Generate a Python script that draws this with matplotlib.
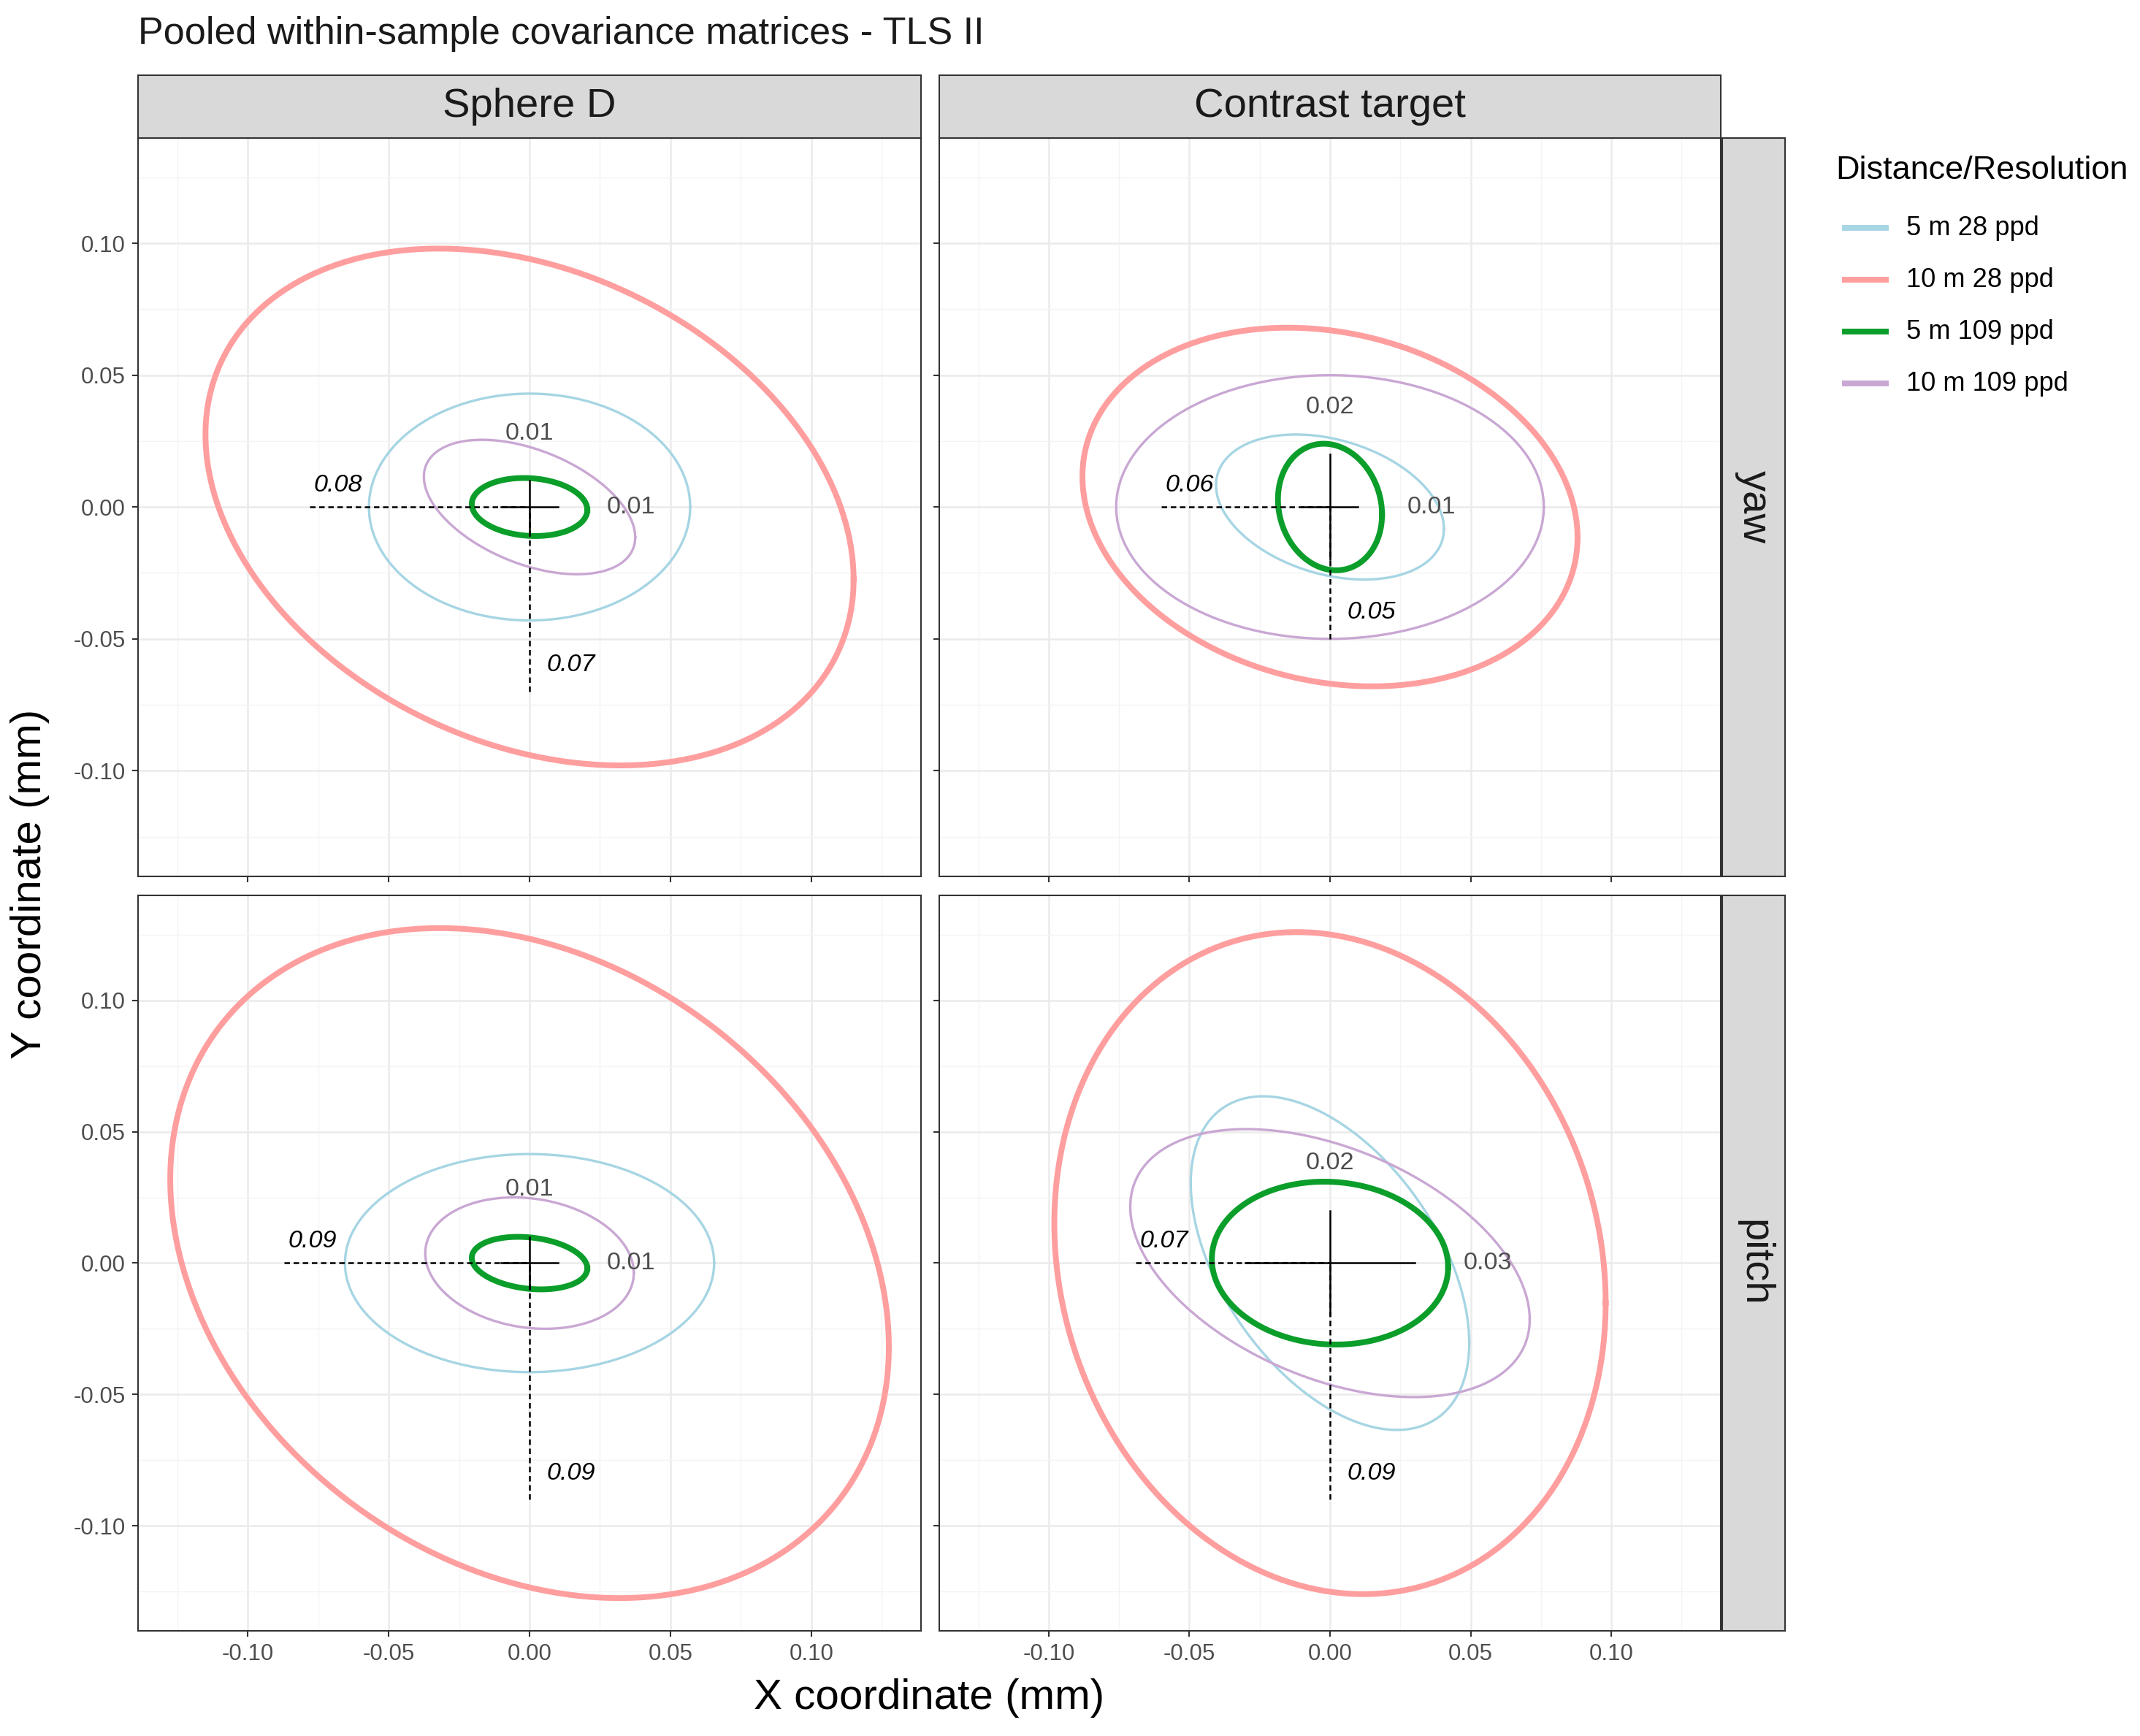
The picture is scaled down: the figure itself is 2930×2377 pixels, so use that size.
import numpy as np
import matplotlib
matplotlib.use("Agg")
import matplotlib.pyplot as plt

plt.rcParams["font.family"] = "Liberation Sans"

W, H = 1568.0, 1272.0
fig = plt.figure(figsize=(2930/300, 2377/300), dpi=300)

series = ["5 m 28 ppd", "10 m 28 ppd", "5 m 109 ppd", "10 m 109 ppd"]
colors = ["#A6D5E3", "#FF9E9E", "#0B9E2A", "#C9A7D3"]
widths = [0.8, 1.9, 1.9, 0.8]

cols = ["Sphere D", "Contrast target"]
rows = ["yaw", "pitch"]

# per panel (row, col): half-width, half-height, correlation for each series
half_x = {("yaw", "Sphere D"): [0.057, 0.115, 0.0205, 0.0375],
          ("yaw", "Contrast target"): [0.0405, 0.088, 0.0185, 0.076],
          ("pitch", "Sphere D"): [0.0655, 0.1275, 0.0205, 0.037],
          ("pitch", "Contrast target"): [0.0495, 0.098, 0.042, 0.071]}
half_y = {("yaw", "Sphere D"): [0.043, 0.098, 0.011, 0.0255],
          ("yaw", "Contrast target"): [0.0275, 0.068, 0.024, 0.050],
          ("pitch", "Sphere D"): [0.0415, 0.1275, 0.010, 0.025],
          ("pitch", "Contrast target"): [0.0635, 0.126, 0.031, 0.051]}
corr = {("yaw", "Sphere D"): [0.0, -0.28, -0.1, -0.45],
        ("yaw", "Contrast target"): [-0.3, -0.17, -0.12, 0.0],
        ("pitch", "Sphere D"): [0.0, -0.25, -0.2, -0.15],
        ("pitch", "Contrast target"): [-0.48, -0.12, -0.05, -0.42]}
dash_len = {("yaw", "Sphere D"): (0.078, 0.070), ("yaw", "Contrast target"): (0.060, 0.050),
            ("pitch", "Sphere D"): (0.087, 0.090), ("pitch", "Contrast target"): (0.069, 0.090)}
dash_lab = {("yaw", "Sphere D"): ("0.08", "0.07"), ("yaw", "Contrast target"): ("0.06", "0.05"),
            ("pitch", "Sphere D"): ("0.09", "0.09"), ("pitch", "Contrast target"): ("0.07", "0.09")}
solid_len = {("yaw", "Sphere D"): (0.01, 0.01), ("yaw", "Contrast target"): (0.01, 0.02),
             ("pitch", "Sphere D"): (0.01, 0.01), ("pitch", "Contrast target"): (0.03, 0.02)}
solid_lab = {("yaw", "Sphere D"): ("0.01", "0.01"), ("yaw", "Contrast target"): ("0.01", "0.02"),
             ("pitch", "Sphere D"): ("0.01", "0.01"), ("pitch", "Contrast target"): ("0.03", "0.02")}

ticks = [-0.10, -0.05, 0.00, 0.05, 0.10]
tick_labels = ["-0.10", "-0.05", "0.00", "0.05", "0.10"]

colx = [(101, 675), (688, 1261)]
rowy = [(101, 642), (656, 1195)]

def box(x0, y0, x1, y1):
    return [x0 / W, 1 - y1 / H, (x1 - x0) / W, (y1 - y0) / H]

t = np.linspace(0, 2 * np.pi, 400)
for ri, r in enumerate(rows):
    for ci, c in enumerate(cols):
        ax = fig.add_axes(box(colx[ci][0], rowy[ri][0], colx[ci][1], rowy[ri][1]))
        ax.set_xlim(-0.139, 0.139)
        ax.set_ylim(-0.140, 0.140)
        ax.set_xticks(ticks)
        ax.set_yticks(ticks)
        ax.set_xticks(np.arange(-0.125, 0.13, 0.05), minor=True)
        ax.set_yticks(np.arange(-0.125, 0.13, 0.05), minor=True)
        ax.grid(True, which="major", color="#EBEBEB", lw=0.6)
        ax.grid(True, which="minor", color="#F4F4F4", lw=0.35)
        ax.set_axisbelow(True)
        for s in ax.spines.values():
            s.set_color("#333333"); s.set_linewidth(0.5)
        ax.tick_params(which="both", length=0)
        ax.tick_params(which="major", length=2, color="#333333", width=0.5,
                       labelsize=7.5, labelcolor="#4D4D4D", pad=2)
        if ci == 0:
            ax.set_yticklabels(tick_labels)
        else:
            ax.set_yticklabels([])
        if ri == 1:
            ax.set_xticklabels(tick_labels)
        else:
            ax.set_xticklabels([])
        k = (r, c)
        for i in range(4):
            wx, wy, rho = half_x[k][i], half_y[k][i], corr[k][i]
            x = wx * np.cos(t)
            y = wy * (rho * np.cos(t) + np.sqrt(1 - rho ** 2) * np.sin(t))
            ax.plot(x, y, color=colors[i], lw=widths[i], zorder=3)
        dx, dy = dash_len[k]
        sx, sy = solid_len[k]
        ax.plot([-dx, 0], [0, 0], "k--", lw=0.6, dashes=(3, 2), zorder=4)
        ax.plot([0, 0], [-dy, 0], "k--", lw=0.6, dashes=(3, 2), zorder=4)
        ax.plot([-sx, sx], [0, 0], "k-", lw=0.6, zorder=4)
        ax.plot([0, 0], [-sy, sy], "k-", lw=0.6, zorder=4)
        ax.text(-dx + 0.01, 0.004, dash_lab[k][0], fontsize=8.2, style="italic", ha="center", va="bottom")
        ax.text(0.006, -dy + 0.01, dash_lab[k][1], fontsize=8.2, style="italic", ha="left", va="center")
        ax.text(0, sy + 0.018, solid_lab[k][1], fontsize=8.2, color="#4D4D4D", ha="center", va="center")
        ax.text(sx + 0.026, 0, solid_lab[k][0], fontsize=8.2, color="#4D4D4D", ha="center", va="center")
        if ri == 0:
            sax = fig.add_axes(box(colx[ci][0], 55, colx[ci][1], 101))
            sax.set_facecolor("#D9D9D9")
            sax.set_xticks([]); sax.set_yticks([])
            for s in sax.spines.values():
                s.set_color("#333333"); s.set_linewidth(0.5)
            sax.text(0.5, 0.5, c, ha="center", va="center", fontsize=13.5, color="#1A1A1A",
                     transform=sax.transAxes)
        if ci == 1:
            sax = fig.add_axes(box(1262, rowy[ri][0], 1308, rowy[ri][1]))
            sax.set_facecolor("#D9D9D9")
            sax.set_xticks([]); sax.set_yticks([])
            for s in sax.spines.values():
                s.set_color("#333333"); s.set_linewidth(0.5)
            sax.text(0.5, 0.5, r, ha="center", va="center", fontsize=13.5, color="#1A1A1A",
                     rotation=-90, transform=sax.transAxes)

fig.text(101 / W, 1 - 25 / H, "Pooled within-sample covariance matrices - TLS II",
         fontsize=12.5, va="center", ha="left", color="#1A1A1A")
fig.text(681 / W, 1 - 1244 / H, "X coordinate (mm)", fontsize=14, ha="center", va="center")
fig.text(22 / W, 1 - 648 / H, "Y coordinate (mm)", fontsize=14, ha="center", va="center", rotation=90)

fig.text(1345 / W, 1 - 125 / H, "Distance/Resolution", fontsize=10.8, va="center", ha="left")
for i, s in enumerate(series):
    yy = 1 - (167 + 38 * i) / H
    fig.add_artist(plt.Line2D([1352 / W, 1382 / W], [yy, yy], color=colors[i], lw=1.9))
    fig.text(1397 / W, yy, s, fontsize=8.7, va="center", ha="left")

fig.savefig("out.png", dpi=300, facecolor="white")
